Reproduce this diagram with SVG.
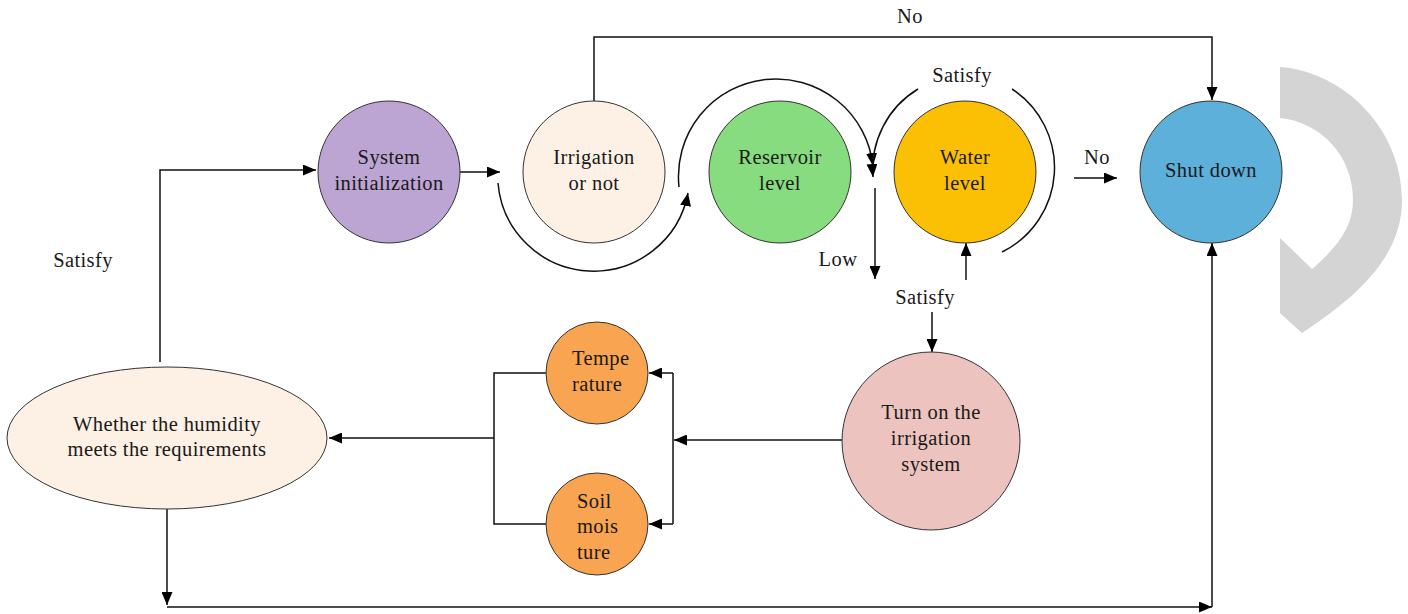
<svg xmlns="http://www.w3.org/2000/svg" width="1408" height="614" viewBox="0 0 1408 614">
<style>
text{font-family:"Liberation Serif","Times New Roman",serif;font-size:20.5px;letter-spacing:0.4px;fill:#1a1a1a;text-anchor:middle}
.n{stroke:#333;stroke-width:1}
.c{fill:none;stroke:#111;stroke-width:1.5}
</style>
<defs>
<marker id="ah" markerWidth="13" markerHeight="11" refX="13" refY="5.5" orient="auto" markerUnits="userSpaceOnUse"><path d="M0,0 L13,5.5 L0,11 Z" fill="#000"/></marker>
</defs>
<rect width="1408" height="614" fill="#fff"/>
<path id="deco" d="M1280,67 C1345,72 1402,130 1402,200 C1402,255 1360,295 1302,333 L1280,313 L1280,238 L1312,269 C1340,245 1353,225 1353,200 C1353,155 1320,122 1280,118 Z" fill="#d4d4d4"/>
<g id="connectors">
<path class="c" d="M160,362 V170 H316" marker-end="url(#ah)"/>
<path class="c" d="M460,172 H500" marker-end="url(#ah)"/>
<path class="c" d="M594,101 V37 H1212 V100" marker-end="url(#ah)"/>
<path class="c" d="M498,183 A96,96 0 0 0 688,193" marker-end="url(#ah)"/>
<path class="c" d="M679,187 A97,97 0 1 1 873,166" marker-end="url(#ah)"/>
<path class="c" d="M918,89 A94,94 0 0 0 873,177" marker-end="url(#ah)"/>
<path class="c" d="M1012,89 A94,94 0 0 1 1002,252"/>
<path class="c" d="M875,188 V279" marker-end="url(#ah)"/>
<path class="c" d="M966,280 V243" marker-end="url(#ah)"/>
<path class="c" d="M932,312 V352" marker-end="url(#ah)"/>
<path class="c" d="M1074,178 H1117" marker-end="url(#ah)"/>
<path class="c" d="M842,440 H674" marker-end="url(#ah)"/>
<path class="c" d="M673,373 V524"/>
<path class="c" d="M673,373 H649" marker-end="url(#ah)"/>
<path class="c" d="M673,524 H649" marker-end="url(#ah)"/>
<path class="c" d="M546,373 H494 V524 H546"/>
<path class="c" d="M494,438 H329" marker-end="url(#ah)"/>
<path class="c" d="M167,509 V605" marker-end="url(#ah)"/>
<path class="c" d="M167,607 H1212" marker-end="url(#ah)"/>
<path class="c" d="M1212,607 V243" marker-end="url(#ah)"/>
<text x="910" y="23">No</text>
<text x="962" y="82">Satisfy</text>
<text x="1097" y="164">No</text>
<text x="838" y="266">Low</text>
<text x="925" y="304">Satisfy</text>
<text x="83" y="267">Satisfy</text>
</g>
<g id="sysinit"><circle class="n" cx="389" cy="172" r="71" fill="#bca5d3"/><text x="389" y="164">System</text><text x="389" y="190">initialization</text></g>
<g id="irrigation"><circle class="n" cx="594" cy="172" r="71" fill="#fdf0e4"/><text x="594" y="164">Irrigation</text><text x="594" y="190">or not</text></g>
<g id="reservoir"><circle class="n" cx="780" cy="172" r="71" fill="#88dc80"/><text x="780" y="164">Reservoir</text><text x="780" y="190">level</text></g>
<g id="water"><circle class="n" cx="965" cy="172" r="71" fill="#fbbf03"/><text x="965" y="164">Water</text><text x="965" y="190">level</text></g>
<g id="shutdown"><circle class="n" cx="1211" cy="172" r="71" fill="#5db0d9"/><text x="1211" y="177">Shut down</text></g>
<g id="turnon"><circle class="n" cx="931" cy="441" r="89" fill="#edc3bf"/><text x="931" y="419">Turn on the</text><text x="931" y="445">irrigation</text><text x="931" y="471">system</text></g>
<g id="temperature"><circle class="n" cx="597" cy="373" r="51" fill="#f9a451"/><text x="572" y="365" style="text-anchor:start">Tempe</text><text x="572" y="391" style="text-anchor:start">rature</text></g>
<g id="soil"><circle class="n" cx="597" cy="524" r="51" fill="#f9a451"/><text x="577" y="508" style="text-anchor:start">Soil</text><text x="577" y="533" style="text-anchor:start">mois</text><text x="577" y="559" style="text-anchor:start">ture</text></g>
<g id="humidity"><ellipse class="n" cx="167" cy="438" rx="160" ry="71" fill="#fdf0e4"/><text x="167" y="431">Whether the humidity</text><text x="167" y="456">meets the requirements</text></g>
</svg>
